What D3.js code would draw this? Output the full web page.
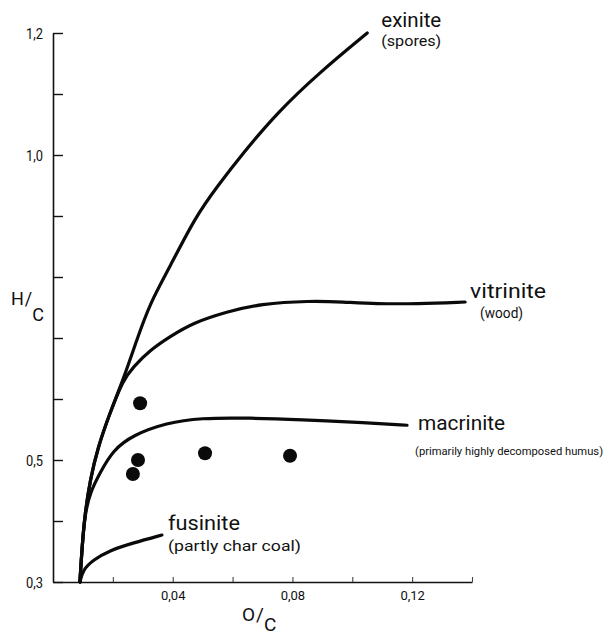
<!DOCTYPE html>
<html>
<head>
<meta charset="utf-8">
<script src="https://cdn.jsdelivr.net/npm/d3@7"></script>
<style>
  html, body { margin: 0; padding: 0; background: #fff; }
  svg { display: block; }
  text { font-family: "Roboto", "Liberation Sans", sans-serif; fill: #111; }
</style>
</head>
<body>
<svg id="chart" width="611" height="635"></svg>
<script>
// Maceral evolution paths in the O/C – H/C plane (van Krevelen style)
const exinite = [
  [0.009, 0.300], [0.0097, 0.357], [0.0107, 0.413], [0.0124, 0.467], [0.015, 0.521],
  [0.019, 0.577], [0.0234, 0.631], [0.028, 0.697], [0.0324, 0.757], [0.039, 0.816],
  [0.0474, 0.897], [0.0548, 0.948], [0.0635, 1.003], [0.0748, 1.069], [0.0892, 1.136],
  [0.105, 1.200]
];
const vitrinite = [
  [0.009, 0.300], [0.0097, 0.357], [0.0107, 0.413], [0.0124, 0.467], [0.015, 0.521],
  [0.019, 0.577], [0.0234, 0.631], [0.0267, 0.652], [0.0324, 0.680], [0.039, 0.702],
  [0.0468, 0.725], [0.0581, 0.743], [0.0692, 0.756], [0.0859, 0.761], [0.0969, 0.759],
  [0.108, 0.756], [0.1216, 0.756], [0.1377, 0.759]
];
const macrinite = [
  [0.009, 0.300], [0.0097, 0.357], [0.0107, 0.413], [0.0125, 0.448], [0.0157, 0.479],
  [0.020, 0.516], [0.0267, 0.541], [0.038, 0.561], [0.0491, 0.569], [0.0658, 0.569],
  [0.0825, 0.566], [0.1049, 0.561], [0.1183, 0.557]
];
const fusinite = [
  [0.009, 0.300], [0.010, 0.320], [0.0134, 0.336], [0.019, 0.352], [0.0267, 0.364],
  [0.0364, 0.377]
];

// measured samples
const samples = [
  [0.0291, 0.593], [0.0508, 0.511], [0.0792, 0.507], [0.0284, 0.500], [0.0267, 0.477]
];

const curveNames = ["exinite", "vitrinite", "macrinite", "fusinite"];
const curveNotes = ["(spores)", "(wood)", "(primarily highly decomposed humus)", "(partly char coal)"];

const yTickValues = [0.3, 0.4, 0.5, 0.6, 0.7, 0.8, 0.9, 1.0, 1.1, 1.2];
const yTickLabels = {"0.3": "0,3", "0.5": "0,5", "1": "1,0", "1.2": "1,2"};
const xTickValues = [0.02, 0.04, 0.06, 0.08, 0.10, 0.12, 0.14];
const xTickLabels = {"0.04": "0,04", "0.08": "0,08", "0.12": "0,12"};

const svg = d3.select("#chart");

const x = d3.scaleLinear().domain([0, 0.14]).range([53, 472]);
const y = d3.scaleLinear().domain([0.3, 1.2]).range([582, 33]);

// y axis: ticks point into the plot
const yAxis = d3.axisLeft(y)
  .tickValues(yTickValues)
  .tickSizeInner(-10)
  .tickSizeOuter(0)
  .tickPadding(10)
  .tickFormat(d => yTickLabels[String(+d.toFixed(2))] || "");
const gy = svg.append("g").attr("transform", `translate(${x(0)},0)`).call(yAxis);
gy.select(".domain").attr("stroke", "#111").attr("stroke-width", 1.6);
gy.selectAll(".tick line").attr("stroke", "#111").attr("stroke-width", 1.4);
gy.selectAll(".tick text").attr("font-size", 14).attr("font-family", null).attr("dy", "0.4em")
  .attr("textLength", 17).attr("lengthAdjust", "spacingAndGlyphs");

// x axis: short upward ticks
const xAxis = d3.axisBottom(x)
  .tickValues(xTickValues)
  .tickSizeInner(-5)
  .tickSizeOuter(0)
  .tickPadding(9)
  .tickFormat(d => xTickLabels[String(+d.toFixed(2))] || "");
const gx = svg.append("g").attr("transform", `translate(0,${y(0.3)})`).call(xAxis);
gx.select(".domain").attr("stroke", "#111").attr("stroke-width", 1.6);
gx.selectAll(".tick line").attr("stroke", "#444").attr("stroke-width", 1.1);
gx.selectAll(".tick text").attr("font-size", 13).attr("font-family", null);

// curves
const line = d3.line().x(d => x(d[0])).y(d => y(d[1])).curve(d3.curveBasis);
const curves = [exinite, vitrinite, macrinite, fusinite];
svg.append("g").selectAll("path")
  .data(curves)
  .join("path")
  .attr("d", line)
  .attr("fill", "none")
  .attr("stroke", "#0a0a0a")
  .attr("stroke-width", 3.2)
  .attr("stroke-linecap", "round");

// sample points
svg.append("g").selectAll("circle")
  .data(samples)
  .join("circle")
  .attr("cx", d => x(d[0]))
  .attr("cy", d => y(d[1]))
  .attr("r", 7)
  .attr("fill", "#0a0a0a");

// curve labels placed off each curve's last point
const nameOffsets = [[14, -6], [5, -4], [11, 5], [6, -5]];
const noteOffsets = [[14, 13], [15, 16], [8, 30], [6, 16]];
const nameWidths = [60, 76, 87, 72];
const noteWidths = [60, 43, 188, 133];
const noteSizes = [14, 14, 11.5, 14];
curves.forEach((c, i) => {
  const end = c[c.length - 1];
  svg.append("text")
    .attr("x", x(end[0]) + nameOffsets[i][0])
    .attr("y", y(end[1]) + nameOffsets[i][1])
    .attr("font-size", 20)
    .attr("textLength", nameWidths[i])
    .attr("lengthAdjust", "spacingAndGlyphs")
    .text(curveNames[i]);
  svg.append("text")
    .attr("x", x(end[0]) + noteOffsets[i][0])
    .attr("y", y(end[1]) + noteOffsets[i][1])
    .attr("font-size", noteSizes[i])
    .attr("textLength", noteWidths[i])
    .attr("lengthAdjust", "spacingAndGlyphs")
    .text(curveNotes[i]);
});

// axis titles written as H/C and O/C fractions
const yTitle = svg.append("text").attr("x", 11).attr("y", 305).attr("font-size", 18);
yTitle.append("tspan").text("H");
yTitle.append("tspan").attr("dx", 1).text("/");
yTitle.append("tspan").attr("dy", 16).text("C");

const xTitle = svg.append("text").attr("x", 242).attr("y", 621).attr("font-size", 19);
xTitle.append("tspan").text("O");
xTitle.append("tspan").attr("dx", 1).text("/");
xTitle.append("tspan").attr("dy", 10).text("C");
</script>
</body>
</html>
